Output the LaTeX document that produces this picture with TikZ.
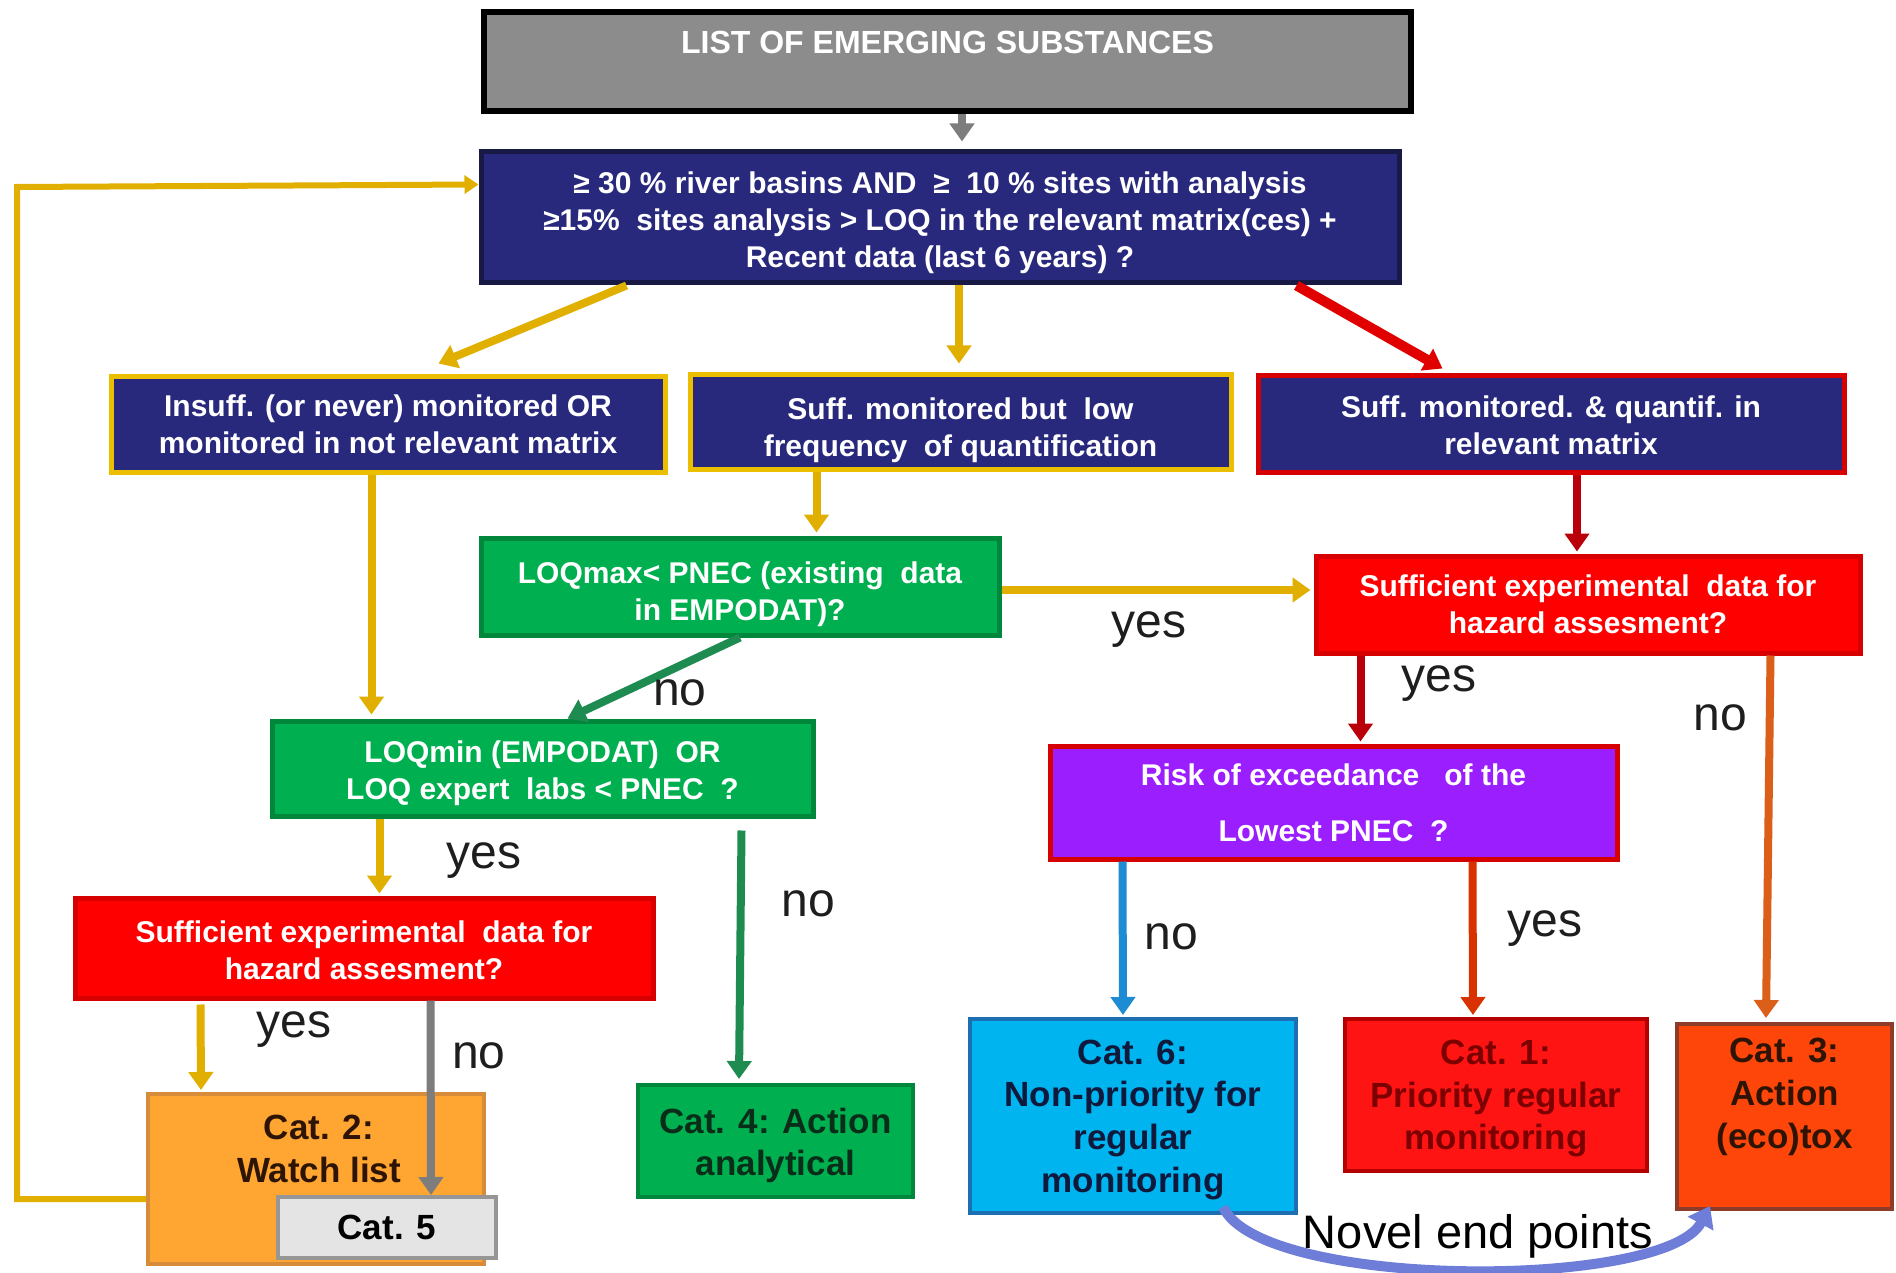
\documentclass[tikz,border=0pt]{standalone}
\usepackage{fontspec}
\setmainfont{Liberation Sans}
\usetikzlibrary{arrows.meta,calc}
\definecolor{boxgrey}{RGB}{140,140,140}
\definecolor{boxnavy}{RGB}{40,40,125}
\definecolor{edgenavy}{RGB}{25,25,70}
\definecolor{boxgold}{RGB}{235,190,0}
\definecolor{boxgreen}{RGB}{0,176,80}
\definecolor{edgegreen}{RGB}{0,135,60}
\definecolor{boxred}{RGB}{255,0,0}
\definecolor{edgered}{RGB}{215,0,0}
\definecolor{boxpurple}{RGB}{155,30,255}
\definecolor{catorange}{RGB}{255,165,50}
\definecolor{edgeorange}{RGB}{215,140,60}
\definecolor{catcyan}{RGB}{0,180,240}
\definecolor{edgecyan}{RGB}{30,110,180}
\definecolor{catred}{RGB}{255,20,20}
\definecolor{edgedarkred}{RGB}{180,0,0}
\definecolor{catorangered}{RGB}{255,70,10}
\definecolor{edgebrown}{RGB}{140,60,40}
\definecolor{catgrey}{RGB}{228,228,228}
\definecolor{edgegrey}{RGB}{150,150,150}
\definecolor{textbrown}{RGB}{45,20,5}
\definecolor{textgreen}{RGB}{10,45,25}
\definecolor{textnavy}{RGB}{15,25,60}
\definecolor{textred}{RGB}{125,0,0}
\definecolor{textdark}{RGB}{30,30,30}
\definecolor{arrowgrey}{RGB}{125,125,125}
\definecolor{arrowgold}{RGB}{225,175,0}
\definecolor{arrowred}{RGB}{225,0,0}
\definecolor{arrowdarkred}{RGB}{185,0,10}
\definecolor{arrowgreen}{RGB}{30,140,80}
\definecolor{arrowblue}{RGB}{30,140,210}
\definecolor{arrowredorange}{RGB}{215,50,0}
\definecolor{arroworange}{RGB}{220,95,25}
\definecolor{arrownovel}{RGB}{110,125,215}
% invisible strut that pushes a box text down
\newcommand\pushdown[1]{\rule{0pt}{#1}}
\begin{document}
\begin{tikzpicture}[x=0.5pt, y=-0.5pt,
    box/.style={draw, line width=2.5pt, align=center, inner sep=0pt, text=white,
        font=\bfseries\fontsize{15}{18.5}\selectfont},
    greybox/.style={draw=black, line width=3pt, fill=boxgrey},
    navybox/.style={box, fill=boxnavy},
    greenbox/.style={box, fill=boxgreen, draw=edgegreen},
    redbox/.style={box, fill=boxred, draw=edgered},
    cattext/.style={align=center, inner sep=0pt, font=\bfseries\fontsize{17.5}{21.3}\selectfont},
    catbox/.style={cattext, draw, line width=2pt},
    flow/.style={line width=4pt, -{Triangle[width=12pt,length=9pt]}},
    lbl/.style={inner sep=0pt, text=textdark, font=\fontsize{24}{24}\selectfont}]
    \fill[white] (0,0) rectangle (1896,1273);
    \useasboundingbox (0,0) rectangle (1896,1273);

    % Substances and first screening
    \node[greybox, minimum width=463.5pt, minimum height=49.5pt] (list) at (947.5,61.5) {};
    \node[text=white, font=\bfseries\fontsize{16}{16}\selectfont] (listtext) at (947.5,42) {LIST OF EMERGING SUBSTANCES};
    \node[navybox, draw=edgenavy, minimum width=459pt, minimum height=65.5pt] (crit) at (940,217.5)
        {\pushdown{16.5pt}≥ 30 \% river basins AND \ ≥ \ 10 \% sites with analysis\\≥15\% \ sites analysis > LOQ in the relevant matrix(ces) +\\Recent data (last 6 years) ?};

    % Monitoring classes
    \node[navybox, draw=boxgold, minimum width=277pt, minimum height=48pt] (insuff) at (388,424) {Insuff. (or never) monitored OR\\monitored in not relevant matrix};
    \node[navybox, draw=boxgold, minimum width=270.5pt, minimum height=47.5pt] (lowfreq) at (960.5,421.5) {\pushdown{19.5pt}Suff. monitored but \ low\\frequency \ of quantification};
    \node[navybox, draw=edgered, minimum width=293pt, minimum height=48.5pt] (quant) at (1551,423.5) {\pushdown{13pt}Suff. monitored. \& quantif. in\\relevant matrix};

    % Checks
    \node[greenbox, minimum width=259pt, minimum height=48.5pt] (loqmax) at (740,586.5) {\pushdown{18.5pt}LOQmax< PNEC (existing \ data\\in EMPODAT)?};
    \node[redbox, minimum width=272pt, minimum height=48.5pt] (hazardA) at (1588,604.5) {Sufficient experimental \ data for\\hazard assesment?};
    \node[greenbox, minimum width=270.5pt, minimum height=47.5pt] (lowmin) at (542.5,768.5) {\pushdown{16pt}LOQmin (EMPODAT) \ OR\\LOQ expert \ labs < PNEC \ ?};
    \node[redbox, minimum width=289pt, minimum height=50pt] (hazardB) at (364,948) {\pushdown{13pt}Sufficient experimental \ data for\\hazard assesment?};
    \node[box, fill=boxpurple, draw=edgered, minimum width=283.5pt, minimum height=56.5pt,
        font=\bfseries\fontsize{15}{28}\selectfont] (risk) at (1333.5,802.5) {Risk of exceedance \ \ of the\\Lowest PNEC \ ?};

    % Categories
    \node[catbox, fill=catorange, draw=edgeorange, minimum width=168pt, minimum height=85pt] (cat2) at (316,1179) {};
    \node[cattext, text=textbrown] (cat2text) at (319,1149) {Cat. 2:\\Watch list};
    \node[catbox, fill=catgrey, draw=edgegrey, text=black, minimum width=109pt, minimum height=30.5pt] (cat5) at (387,1227.5) {Cat. 5};
    \node[catbox, fill=boxgreen, draw=edgegreen, text=textgreen, minimum width=137.5pt, minimum height=56pt] (cat4) at (775.5,1141) {\pushdown{17pt}Cat. 4: Action\\analytical};
    \node[catbox, fill=catcyan, draw=edgecyan, text=textnavy, minimum width=163pt, minimum height=97pt] (cat6) at (1133,1116) {\pushdown{16pt}Cat. 6:\\Non-priority for\\regular\\monitoring};
    \node[catbox, fill=catred, draw=edgedarkred, text=textred, minimum width=151pt, minimum height=76pt] (cat1) at (1496,1095) {\pushdown{16pt}Cat. 1:\\Priority regular\\monitoring};
    \node[catbox, fill=catorangered, draw=edgebrown, minimum width=107.5pt, minimum height=92.5pt] (cat3) at (1784.5,1116.5) {};
    \node[cattext, text=textbrown] (cat3text) at (1784.5,1097) {Cat. 3:\\Action\\(eco)tox};

    % Connectors
    \draw[flow, arrowgrey] ($(list.south)+(14.5,0)$) -- ($(crit.north)+(22,-8)$);
    \draw[flow, arrowgold] ($(crit.south west)+(148,0)$) -- ($(insuff.north west)+(330,-10)$);
    \draw[flow, arrowgold] ($(crit.south)+(19,0)$) -- ($(lowfreq.north)+(-1.5,-8)$);
    \draw[flow, arrowred, line width=5pt] ($(crit.south east)+(-105,0)$) -- ($(quant.north west)+(187,-4)$);
    \draw[flow, arrowgold] ($(insuff.south west)+(263,0)$) -- ($(lowmin.north west)+(102,-4)$);
    \draw[flow, arrowgold] ($(lowfreq.south west)+(129,0)$) -- ($(loqmax.north west)+(338,-3)$);
    \draw[flow, arrowdarkred] ($(quant.south)+(26,0)$) -- ($(hazardA.north)+(-11,-2)$);
    \draw[flow, arrowgold] ($(loqmax.east)+(0,3.5)$) -- ($(hazardA.west)+(-3,-14.5)$);
    \draw[flow, arrowgreen] (loqmax.south) -- ($(lowmin.north)+(25,0)$);
    \draw[flow, arrowgold] ($(lowmin.south west)+(110,0)$) -- ($(hazardB.north west)+(307,-2)$);
    \draw[flow, arrowgreen] ($(lowmin.south east)+(-74,12)$) -- ($(cat4.north)+(-36.5,-4)$);
    \draw[flow, arrowgold] ($(hazardB.south west)+(128,4)$) -- ($(cat2.north west)+(55,-2)$);
    \draw[flow, arrowgrey] ($(hazardB.south west)+(358,0)$) -- ($(cat5.north west)+(155,0)$);
    \draw[flow, arrowdarkred] ($(hazardA.south west)+(47,0)$) -- ($(risk.north west)+(313,-2)$);
    \draw[flow, arroworange] ($(hazardA.south east)+(-92,0)$) -- ($(cat3.north west)+(91,-4)$);
    \draw[flow, arrowblue] ($(risk.south west)+(75,0)$) -- ($(cat6.north west)+(155,-2)$);
    \draw[flow, arrowredorange] ($(risk.south west)+(425,0)$) -- ($(cat1.north west)+(130,-2)$);

    % Back to the screening
    \coordinate (loopturn) at (17,187);
    \draw[arrowgold, line width=3pt, -{Triangle[width=9pt,length=7pt]}] ($(cat2.south west)+(0,-67)$) -| (loopturn) -- ($(crit.north west)+(0,35)$);

    % Novel end points
    \draw[arrownovel, line width=5pt, -{Triangle[width=14pt,length=10pt]}] ($(cat6.south east)+(-75,-8)$)
        .. controls (1262,1290) and (1665,1290) .. ($(cat3.south west)+(35,-5)$);
    \node[lbl, text=black, font=\fontsize{23.5}{24}\selectfont] (novel) at (1478,1236) {Novel end points};

    % Answers
    \node[lbl] (yesA) at (1149,630) {yes};
    \node[lbl] (noA) at (680,693) {no};
    \node[lbl] (yesB) at (484,861) {yes};
    \node[lbl] (noB) at (808,904) {no};
    \node[lbl] (yesC) at (294,1030) {yes};
    \node[lbl] (noC) at (479,1056) {no};
    \node[lbl] (yesD) at (1439,684) {yes};
    \node[lbl] (noD) at (1720,718) {no};
    \node[lbl] (noE) at (1171,937) {no};
    \node[lbl] (yesE) at (1545,929) {yes};
\end{tikzpicture}
\end{document}
